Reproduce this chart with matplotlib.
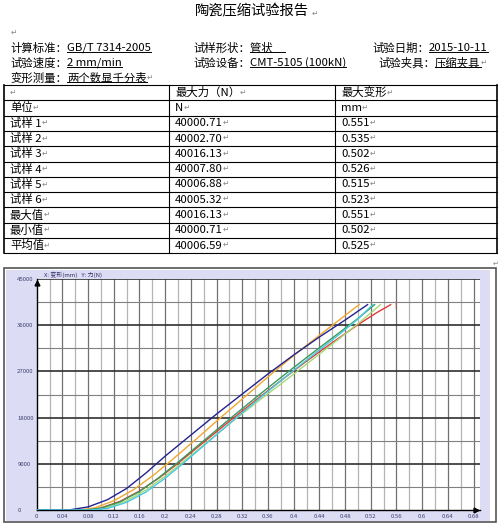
import numpy as np
import matplotlib
matplotlib.use("Agg")
import matplotlib.pyplot as plt
from matplotlib.patches import Rectangle

FONTS = ["Noto Sans CJK SC", "DejaVu Sans"]
plt.rcParams["font.family"] = FONTS

# 试验信息
title = "陶瓷压缩试验报告"
info_rows = [
    [("计算标准：", 10, False), ("GB/T 7314-2005", 67, True), ("试样形状：", 193, False),
     ("管状     ", 250, True), ("试验日期：", 372, False), ("2015-10-11", 429, True)],
    [("试验速度：", 10, False), ("2 mm/min", 67, True), ("试验设备：", 193, False),
     ("CMT-5105 (100kN)", 250, True), ("试验夹具：", 378, False), ("压缩夹具", 435, True)],
    [("变形测量：", 10, False), ("两个数显千分表", 67, True)],
]

# 结果表
samples = ["试样 1", "试样 2", "试样 3", "试样 4", "试样 5", "试样 6"]
max_force = [40000.71, 40002.70, 40016.13, 40007.80, 40006.88, 40005.32]
max_deform = [0.551, 0.535, 0.502, 0.526, 0.515, 0.523]

# 力-变形曲线
curve_x = [
    [0, 0.075, 0.10, 0.13, 0.16, 0.19, 0.22, 0.26, 0.30, 0.34, 0.38, 0.42, 0.46, 0.50, 0.53, 0.551],
    [0, 0.08, 0.11, 0.14, 0.17, 0.20, 0.23, 0.27, 0.31, 0.35, 0.39, 0.43, 0.47, 0.505, 0.535],
    [0, 0.065, 0.09, 0.12, 0.15, 0.18, 0.21, 0.25, 0.29, 0.33, 0.37, 0.41, 0.45, 0.48, 0.502],
    [0, 0.075, 0.10, 0.13, 0.16, 0.19, 0.22, 0.26, 0.30, 0.34, 0.38, 0.42, 0.46, 0.50, 0.526],
    [0, 0.05, 0.08, 0.11, 0.14, 0.17, 0.20, 0.24, 0.28, 0.32, 0.36, 0.40, 0.44, 0.48, 0.515],
    [0, 0.085, 0.11, 0.14, 0.17, 0.20, 0.23, 0.27, 0.31, 0.35, 0.39, 0.43, 0.47, 0.50, 0.523],
]
curve_y = [
    [0, 0, 400, 1700, 3700, 6200, 9100, 13200, 17300, 21300, 25200, 29000, 32600, 36100, 38500, 40000.71],
    [0, 0, 450, 1800, 3900, 6600, 9600, 13700, 17800, 21700, 25500, 29400, 33300, 36800, 40002.70],
    [0, 0, 400, 1800, 3900, 6600, 9700, 14000, 18400, 22700, 27000, 31100, 35000, 37900, 40016.13],
    [0, 0, 350, 1600, 3600, 6300, 9300, 13500, 17700, 21800, 25800, 29700, 33500, 37300, 40007.80],
    [0, 0, 600, 2000, 4200, 7200, 10500, 14600, 18700, 22600, 26500, 30200, 33700, 37000, 40006.88],
    [0, 0, 300, 1500, 3500, 6200, 9300, 13600, 17900, 22100, 26200, 30200, 34100, 37200, 40005.32],
]
curve_colors = ["#e03a3a", "#a8d878", "#f0a830", "#3a9a5a", "#23238f", "#48c8e0"]

fig = plt.figure(figsize=(5, 5.25), dpi=100)
bg = fig.add_axes([0, 0, 1, 1])
bg.set_xlim(0, 500)
bg.set_ylim(525, 0)
bg.axis("off")

underlined = []


def put(x, y, s, size=8.2, underline=False, mark=False, **kw):
    t = bg.text(x, y, s, fontsize=size, va="center", ha="left", family=FONTS, **kw)
    if mark:
        bg.annotate("↵", xy=(1, 0.15), xycoords=t, fontsize=5.5, color="#888888",
                    va="bottom", ha="left", family=FONTS)
    if underline:
        underlined.append(t)
    return t


# 标题
bg.text(252, 11, title, fontsize=10.3, ha="center", va="center", family=FONTS)
bg.text(312, 14, "↵", fontsize=5.5, color="#888888", ha="left", va="center", family=FONTS)
bg.text(11, 33, "↵", fontsize=5.5, color="#888888", ha="left", va="center", family=FONTS)

for i, row in enumerate(info_rows):
    y = 48 + i * 15
    for j, (s, x, u) in enumerate(row):
        put(x, y, s, underline=u, mark=(i > 0 and j == len(row) - 1))

# 表格
top, rh = 85, 15.3
cols = [4, 169, 335, 497]
table = [["", "最大力（N）", "最大变形"], ["单位", "N", "mm"]]
for s, f, d in zip(samples, max_force, max_deform):
    table.append([s, f"{f:.2f}", f"{d:.3f}"])
table.append(["最大值", f"{max(max_force):.2f}", f"{max(max_deform):.3f}"])
table.append(["最小值", f"{min(max_force):.2f}", f"{min(max_deform):.3f}"])
table.append(["平均值", f"{np.mean(max_force):.2f}", f"{np.mean(max_deform):.3f}"])

n = len(table)
for i in range(n + 1):
    bg.plot([cols[0], cols[-1]], [top + i * rh] * 2, color="black", lw=0.8)
for c in cols:
    bg.plot([c, c], [top, top + n * rh], color="black", lw=0.8 if c not in (4, 497) else 1.2)
for i, row in enumerate(table):
    yc = top + rh * (i + 0.5)
    for j, s in enumerate(row):
        if s:
            put(cols[j] + 6, yc, s, mark=True)
        else:
            bg.text(cols[j] + 6, yc, "↵", fontsize=5.5, color="#888888", va="center", family=FONTS)

# 图表外框
bg.add_patch(Rectangle((4, 268), 492, 254, facecolor="white", edgecolor="#555555", lw=1.2))
bg.add_patch(Rectangle((5.5, 270), 484.5, 251, facecolor="#dcdcf4", edgecolor="none"))
bg.text(44, 274.5, "X: 变形(mm)   Y: 力(N)", fontsize=4.3, color="#303060", va="center", family=FONTS)
bg.text(493, 264, "↵", fontsize=5, color="#888888", va="center", family=FONTS)

ax = fig.add_axes([36.7 / 500, (525 - 510) / 525, 443.3 / 500, 231 / 525])
ax.set_facecolor("white")
ax.set_xlim(0, 0.69)
ax.set_ylim(0, 45000)

for k, gx in enumerate(np.arange(0.02, 0.69, 0.02)):
    ax.axvline(gx, color="#707070" if k % 2 == 1 else "#b4b4b4", lw=0.9, zorder=1)
for k, gy in enumerate(np.arange(4500, 45001, 4500)):
    ax.axhline(gy, color="#303030" if k % 2 == 1 else "#808080", lw=1.2 if k % 2 == 1 else 0.8, zorder=1)

for xs, ys, c in zip(curve_x, curve_y, curve_colors):
    ax.plot(xs, ys, color=c, lw=1.0, zorder=3)
ax.text(max_deform[0] + 0.006, max_force[0], "|", color="#e03a3a", fontsize=5, va="center")

for side in ("top", "right"):
    ax.spines[side].set_visible(False)
for side in ("left", "bottom"):
    ax.spines[side].set_color("black")
    ax.spines[side].set_linewidth(1.0)
ax.plot(0, 44300, marker="^", color="black", markersize=3.5, clip_on=False, zorder=5)
ax.plot(0.683, 0, marker=">", color="black", markersize=3.5, clip_on=False, zorder=5)

xt = np.round(np.arange(0, 0.681, 0.04), 2)
ax.set_xticks(xt)
ax.set_xticklabels([f"{v:g}" for v in xt], fontsize=4.3, color="#404070")
yt = np.arange(0, 45001, 9000)
ax.set_yticks(yt)
ax.set_yticklabels([str(v) for v in yt], fontsize=4.3, color="#404070")
for lab in ax.get_yticklabels():
    lab.set_ha("left")
ax.tick_params(axis="y", length=0, pad=14)
ax.tick_params(axis="x", length=0, pad=3)

# 下划线
fig.canvas.draw()
inv = bg.transData.inverted()
for t in underlined:
    bb = t.get_window_extent()
    (x0, y0), (x1, y1) = inv.transform([[bb.x0, bb.y0], [bb.x1, bb.y1]])
    bg.plot([x0, x1], [max(y0, y1) - 1.5] * 2, color="black", lw=0.7)

fig.savefig("out.png", dpi=100)
